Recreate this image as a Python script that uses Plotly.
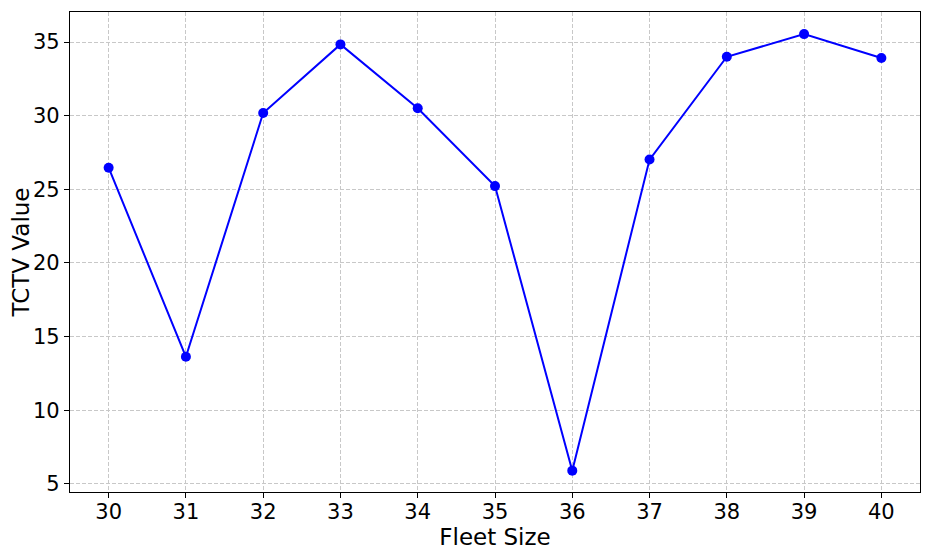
import plotly.graph_objects as go

# Fleet size vs TCTV value
fleet_size = [30, 31, 32, 33, 34, 35, 36, 37, 38, 39, 40]
tctv_value = [26.47, 13.63, 30.18, 34.84, 30.5, 25.22, 5.9, 27.02, 34.0, 35.54, 33.92]

x_ticks = list(range(30, 41))
y_ticks = [5, 10, 15, 20, 25, 30, 35]

FONT = "DejaVu Sans, Arial, sans-serif"

fig = go.Figure()
fig.add_trace(go.Scatter(
    x=fleet_size,
    y=tctv_value,
    mode="lines+markers",
    line=dict(color="#0000FF", width=2),
    marker=dict(color="#0000FF", size=10),
    showlegend=False,
))

axis_common = dict(
    automargin=False,
    showline=True,
    linecolor="black",
    linewidth=1.2,
    mirror=True,
    ticks="outside",
    ticklen=5,
    tickwidth=1.2,
    tickcolor="black",
    showgrid=True,
    gridcolor="#c8c8c8",
    griddash="4px,2px",
    gridwidth=1,
    zeroline=False,
    tickfont=dict(family=FONT, size=21, color="black"),
)

fig.update_xaxes(
    range=[29.5, 40.5],
    tickvals=x_ticks,
    ticklabelstandoff=-4,
    title=dict(text="Fleet Size", font=dict(family=FONT, size=23, color="black"), standoff=4),
    **axis_common,
)
fig.update_yaxes(
    range=[4.45, 37.04],
    tickvals=y_ticks,
    title=dict(text="TCTV Value", font=dict(family=FONT, size=23, color="black"), standoff=8),
    **axis_common,
)

# page body adds an 8px margin, so the figure is sized to fit inside it
fig.update_layout(
    width=925,
    height=549,
    margin=dict(l=62, r=13, t=4, b=65),
    plot_bgcolor="white",
    paper_bgcolor="white",
    font=dict(family=FONT, color="black"),
)

fig.write_html("out.html")
